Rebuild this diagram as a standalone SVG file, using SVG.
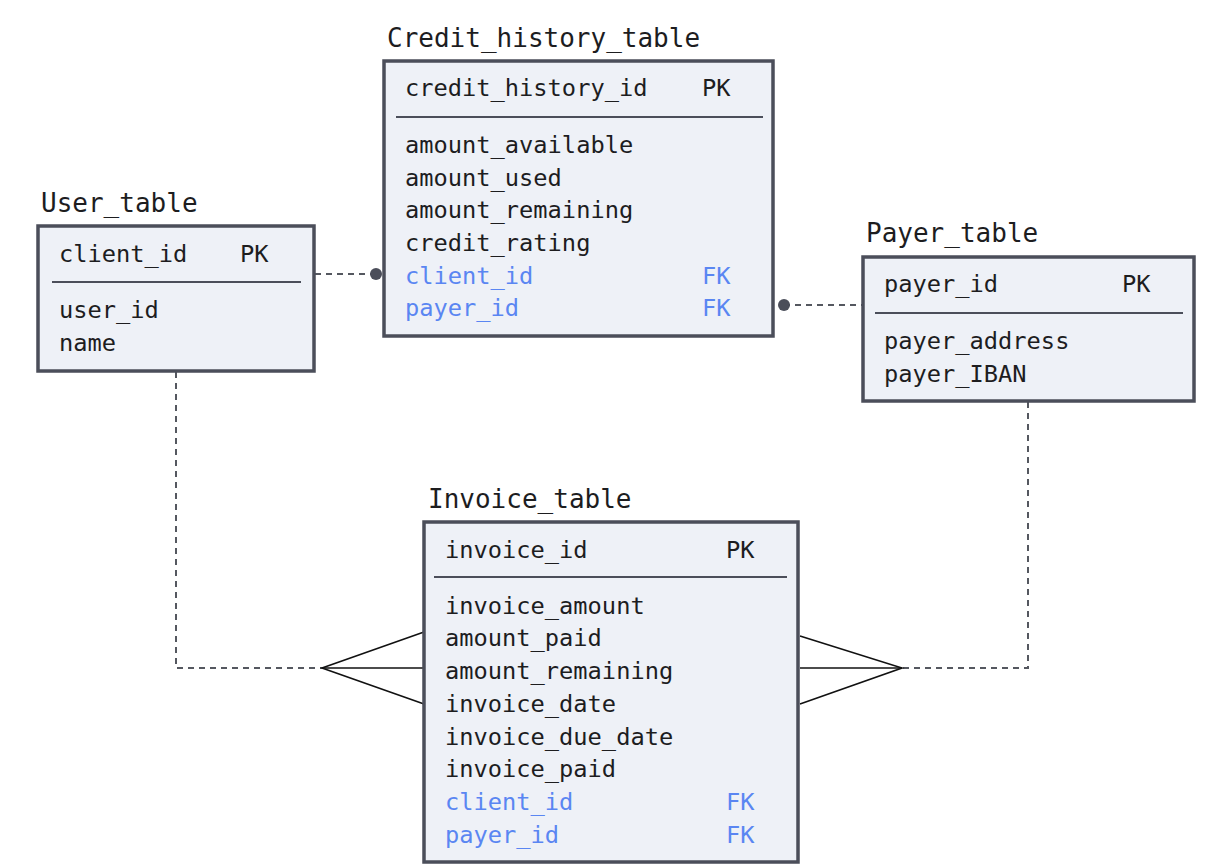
<svg xmlns="http://www.w3.org/2000/svg" width="1206" height="868" viewBox="0 0 1206 868">
<style>
  .title { font-family: "DejaVu Sans Mono", "Liberation Mono", monospace; font-size: 26px; fill: #1d1d1f; }
  .f { font-family: "DejaVu Sans Mono", "Liberation Mono", monospace; font-size: 23.7px; fill: #1d1d1f; }
  .fk { fill: #5a86f2; }
  .box { fill: #eef1f7; stroke: #4b4e5a; stroke-width: 3.5; }
  .div { stroke: #4b4e5a; stroke-width: 1.8; }
  .dash { fill: none; stroke: #555860; stroke-width: 2; stroke-dasharray: 6 5; }
  .crow { fill: none; stroke: #111; stroke-width: 1.6; }
  .dot { fill: #4b4e5a; }
</style>
<rect width="1206" height="868" fill="#ffffff"/>
<g id="connectors">
  <line class="dash" x1="315" y1="274" x2="376" y2="274"/>
  <circle class="dot" cx="376" cy="274" r="6"/>
  <line class="dash" x1="784" y1="305" x2="862" y2="305"/>
  <circle class="dot" cx="784" cy="305" r="6"/>
  <polyline class="dash" points="176,372 176,668 322,668"/>
  <polyline class="crow" points="424,632 322,668 424,704"/>
  <line class="crow" x1="322" y1="668" x2="424" y2="668"/>
  <polyline class="dash" points="1028,402 1028,668 902,668"/>
  <polyline class="crow" points="800,636 902,668 800,704"/>
  <line class="crow" x1="902" y1="668" x2="800" y2="668"/>
</g>
<g id="user_table">
  <text class="title" x="41" y="212">User_table</text>
  <rect class="box" x="38" y="226" width="276" height="145"/>
  <text class="f" x="59" y="262">client_id</text>
  <text class="f" x="240" y="262">PK</text>
  <line class="div" x1="52" y1="282" x2="301" y2="282"/>
  <text class="f" x="59" y="318">user_id</text>
  <text class="f" x="59" y="351">name</text>
</g>
<g id="credit_history_table">
  <text class="title" x="387" y="47">Credit_history_table</text>
  <rect class="box" x="384" y="61" width="389" height="275"/>
  <text class="f" x="405" y="96">credit_history_id</text>
  <text class="f" x="702" y="96">PK</text>
  <line class="div" x1="396" y1="117" x2="763" y2="117"/>
  <text class="f" x="405" y="153">amount_available</text>
  <text class="f" x="405" y="186">amount_used</text>
  <text class="f" x="405" y="218">amount_remaining</text>
  <text class="f" x="405" y="251">credit_rating</text>
  <text class="f fk" x="405" y="284">client_id</text>
  <text class="f fk" x="702" y="284">FK</text>
  <text class="f fk" x="405" y="316">payer_id</text>
  <text class="f fk" x="702" y="316">FK</text>
</g>
<g id="payer_table">
  <text class="title" x="866" y="242">Payer_table</text>
  <rect class="box" x="863" y="257" width="331" height="144"/>
  <text class="f" x="884" y="292">payer_id</text>
  <text class="f" x="1122" y="292">PK</text>
  <line class="div" x1="875" y1="313" x2="1183" y2="313"/>
  <text class="f" x="884" y="349">payer_address</text>
  <text class="f" x="884" y="382">payer_IBAN</text>
</g>
<g id="invoice_table">
  <text class="title" x="428" y="508">Invoice_table</text>
  <rect class="box" x="424" y="522" width="374" height="340"/>
  <text class="f" x="445" y="558">invoice_id</text>
  <text class="f" x="726" y="558">PK</text>
  <line class="div" x1="434" y1="577" x2="787" y2="577"/>
  <text class="f" x="445" y="614">invoice_amount</text>
  <text class="f" x="445" y="646">amount_paid</text>
  <text class="f" x="445" y="679">amount_remaining</text>
  <text class="f" x="445" y="712">invoice_date</text>
  <text class="f" x="445" y="745">invoice_due_date</text>
  <text class="f" x="445" y="777">invoice_paid</text>
  <text class="f fk" x="445" y="810">client_id</text>
  <text class="f fk" x="726" y="810">FK</text>
  <text class="f fk" x="445" y="843">payer_id</text>
  <text class="f fk" x="726" y="843">FK</text>
</g>
</svg>
